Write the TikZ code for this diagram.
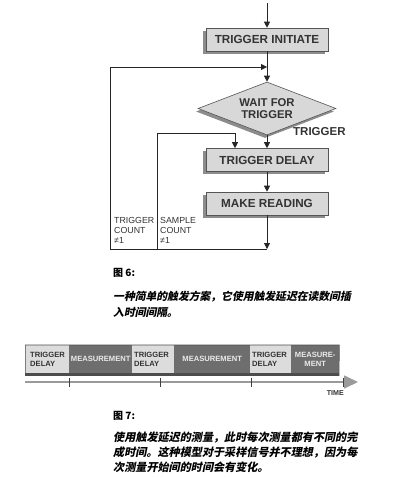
\documentclass[tikz,border=0pt]{standalone}
\usepackage{fontspec}
\setmainfont{Liberation Sans}
\newfontfamily\cjk{Noto Sans CJK SC}
\newfontfamily\cjkbi{Noto Sans CJK SC}[FakeSlant=0.2]
\usetikzlibrary{arrows.meta,shadows,shapes.geometric}
\definecolor{boxfill}{HTML}{D8D8D8}
\definecolor{boxline}{HTML}{555555}
\definecolor{shadowgray}{HTML}{8C8C8C}
\definecolor{txtgray}{HTML}{333333}
\definecolor{lightseg}{HTML}{DCDCDC}
\definecolor{darkseg}{HTML}{6E6E6E}
\definecolor{axisgray}{HTML}{9A9A9A}
\begin{document}
\begin{tikzpicture}[x=1pt,y=-1pt,
  stepbox/.style={draw=boxline, line width=0.6pt, fill=boxfill, minimum width=122pt, minimum height=23pt,
    inner sep=0pt, text=txtgray, font=\bfseries\fontsize{11.7}{13}\selectfont,
    drop shadow={shadow xshift=-3pt, shadow yshift=-3pt, fill=shadowgray, opacity=1}},
  decision/.style={diamond, draw=boxline, line width=0.6pt, fill=boxfill, minimum width=138pt, minimum height=53pt,
    shape aspect=2.6, inner sep=0pt, align=center, text=txtgray, font=\bfseries\fontsize{11.3}{12}\selectfont,
    drop shadow={shadow xshift=-2pt, shadow yshift=-3pt, fill=shadowgray, opacity=1}},
  conn/.style={draw=black!85, line width=0.8pt},
  arr/.style={conn, -{Triangle[length=6pt,width=6pt]}},
  small/.style={align=left, inner sep=0pt, text=txtgray, font=\fontsize{8.8}{10}\selectfont},
  seglight/.style={fill=lightseg, minimum height=28pt, inner ysep=0pt, anchor=north west, align=left,
    text=txtgray, font=\bfseries\fontsize{7.6}{8.6}\selectfont},
  segdark/.style={fill=darkseg, minimum height=28pt, inner ysep=0pt, anchor=north west, align=center,
    text=white!92!black, font=\bfseries\fontsize{7.6}{8.6}\selectfont},
  capt/.style={anchor=west, inner sep=0pt, font=\fontsize{10}{12}\selectfont\cjk\bfseries},
  captline/.style={anchor=west, inner sep=0pt, font=\fontsize{10.8}{13}\selectfont\cjkbi\bfseries}
]
\useasboundingbox (0,0) rectangle (409,478);

% ---------- flowchart ----------
\coordinate (top) at (267,3);
\node[stepbox] (init) at (267,39.5) {TRIGGER INITIATE};
\node[decision] (wait) at (267,108.5) {WAIT FOR\\TRIGGER};
\node[stepbox] (delay) at (267,160) {TRIGGER DELAY};
\node[stepbox] (read) at (267,203.5) {MAKE READING};
\node[anchor=west, inner sep=0pt, text=txtgray, font=\bfseries\fontsize{11.5}{13}\selectfont] (trig) at (293,132) {TRIGGER};

\coordinate (bl) at (110,249);
\coordinate (tl) at (110,67);
\coordinate (jl) at (267,67);
\coordinate (bi) at (157,249);
\coordinate (ti) at (157,133);
\coordinate (tr) at (235,133);
\coordinate (be) at (267,249);

\draw[arr] (top) -- (init.north);
\draw[arr] (init.south) -- (wait.north);
\draw[arr] (bl) -- (tl) -- (jl);
\draw[arr] (bi) -- (ti) -- (tr) -- (tr |- delay.north);
\draw[arr] (wait.south) -- (delay.north);
\draw[arr] (delay.south) -- (read.north);
\draw[arr] (read.south) -- (be);
\draw[conn] (bl) -- (be);

\node[small, anchor=north west] (tc) at (114,217) {TRIGGER\\COUNT\\≠1};
\node[small, anchor=north west] (sc) at (160,217) {SAMPLE\\COUNT\\≠1};

% ---------- figure 6 caption ----------
\node[capt] (c6) at (113,273) {图 6:};
\node[captline] (c6a) at (113,297) {一种简单的触发方案，它使用触发延迟在读数间插};
\node[captline] (c6b) at (113,312) {入时间间隔。};

% ---------- timeline ----------
\fill[darkseg!70!black] (25,372) rectangle (339,375.5);
\node[seglight, minimum width=44pt, text width=35pt, inner xsep=5pt] (s1) at (25,345) {TRIGGER\\DELAY};
\node[segdark, minimum width=63pt, text width=63pt, inner xsep=0pt] (s2) at (69,345) {MEASUREMENT};
\node[seglight, minimum width=42pt, text width=38pt, inner xsep=2pt] (s3) at (132,345) {TRIGGER\\DELAY};
\node[segdark, minimum width=76pt, text width=76pt, inner xsep=0pt] (s4) at (174,345) {MEASUREMENT};
\node[seglight, minimum width=41pt, text width=37pt, inner xsep=2pt] (s5) at (250,345) {TRIGGER\\DELAY};
\node[segdark, minimum width=48pt, text width=48pt, inner xsep=0pt] (s6) at (291,345) {MEASURE-\\MENT};
\draw[draw=black!70, line width=0.6pt] (s1.north west) rectangle (25,375.5);
\draw[draw=black!70, line width=0.6pt] (s1.north west) -- (s6.north east) -- (339,375.5) -- (25,375.5);

\coordinate (ax0) at (25,382);
\coordinate (ax1) at (358,382);
\draw[draw=axisgray, line width=1.6pt, -{Triangle[length=14pt,width=13pt]}] (ax0) -- (ax1);
\foreach \tx in {69,160,251,343}
  \draw[black!75, line width=0.6pt] (\tx,377.5) -- (\tx,386.5);
\node[anchor=east, inner sep=0pt, text=txtgray, font=\bfseries\fontsize{7.1}{8}\selectfont] (time) at (344,393) {TIME};

% ---------- figure 7 caption ----------
\node[capt] (c7) at (113,416) {图 7:};
\node[captline, font=\fontsize{11.1}{13}\selectfont\cjkbi\bfseries] (c7a) at (113,438) {使用触发延迟的测量，此时每次测量都有不同的完};
\node[captline, font=\fontsize{11.1}{13}\selectfont\cjkbi\bfseries] (c7b) at (113,453) {成时间。这种模型对于采样信号并不理想，因为每};
\node[captline, font=\fontsize{11.1}{13}\selectfont\cjkbi\bfseries] (c7c) at (113,467) {次测量开始间的时间会有变化。};
\end{tikzpicture}
\end{document}
